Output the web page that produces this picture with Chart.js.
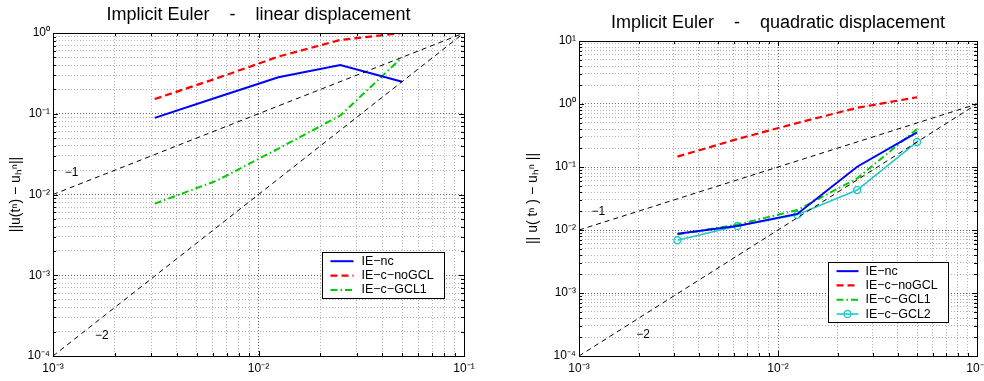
<!DOCTYPE html>
<html><head><meta charset="utf-8">
<script src="https://cdn.jsdelivr.net/npm/chart.js@4/dist/chart.umd.min.js"></script>
<style>
html,body{margin:0;padding:0;background:#fff;width:984px;height:381px;overflow:hidden}
canvas{position:absolute;top:0}
#c1{left:0}
#c2{left:490px}
</style></head><body>
<canvas id="c1" width="490" height="381"></canvas>
<canvas id="c2" width="494" height="381"></canvas>
<script>
// ---------- data ----------
const timeSteps = [0.003125, 0.00625, 0.0125, 0.025, 0.05];

const linearNc      = [0.089, 0.159, 0.283, 0.40, 0.249];
const linearNoGCL   = [0.152, 0.274, 0.51, 0.82, 1.0];
const linearGCL1    = [0.0077, 0.0148, 0.037, 0.095, 0.50];

const quadNc        = [0.0087, 0.0116, 0.018, 0.101, 0.355];
const quadNoGCL     = [0.146, 0.278, 0.50, 0.87, 1.28];
const quadGCL1      = [0.0085, 0.0122, 0.0207, 0.066, 0.40];
const quadGCL2      = [0.00686, 0.0116, 0.0174, 0.043, 0.25];

const refX       = [0.001, 0.1];
const refOrder1  = [0.01, 1];
const refOrder2  = [0.0001, 1];

const xTickExps   = [-3, -2, -1];
const xTickLabels = ['10\u207B\u00B3', '10\u207B\u00B2', '10\u207B\u00B9'];
const yTickExpsLin   = [-4, -3, -2, -1, 0];
const yTickLabelsLin = ['10\u207B\u2074', '10\u207B\u00B3', '10\u207B\u00B2', '10\u207B\u00B9', '10\u2070'];
const yTickExpsQuad   = [-4, -3, -2, -1, 0, 1];
const yTickLabelsQuad = ['10\u207B\u2074', '10\u207B\u00B3', '10\u207B\u00B2', '10\u207B\u00B9', '10\u2070', '10\u00B9'];

const seriesNames = ['IE\u2212nc', 'IE\u2212c\u2212noGCL', 'IE\u2212c\u2212GCL1', 'IE\u2212c\u2212GCL2'];

// ---------- helpers ----------
const FONT = '"Liberation Sans", Arial, Helvetica, sans-serif';
function isMajor(v){ const l = Math.log10(v); return Math.abs(l - Math.round(l)) < 1e-9; }
function logTicks(minE, maxE){
  const out = [];
  for (let e = minE; e < maxE; e++) for (let m = 1; m < 10; m++) out.push({value: m * Math.pow(10, e)});
  out.push({value: Math.pow(10, maxE)});
  return out;
}
function pts(xs, ys){ return xs.map((x, i) => ({x: x, y: ys[i]})); }

function makeAxis(minE, maxE, exps, labels, isX, size){
  return {
    type: 'logarithmic',
    position: isX ? 'bottom' : 'left',
    min: Math.pow(10, minE), max: Math.pow(10, maxE),
    afterBuildTicks(s){ s.ticks = logTicks(minE, maxE); },
    afterFit(s){
      if (isX) s.height = size; else s.width = size;
      s.paddingLeft = 0; s.paddingRight = 0; s.paddingTop = 0; s.paddingBottom = 0;
    },
    ticks: {
      autoSkip: false, maxRotation: 0, minRotation: 0,
      padding: isX ? 5 : 3,
      color: '#000',
      font: {family: FONT, size: 12},
      callback(v){
        if (!isMajor(v)) return '';
        const i = exps.indexOf(Math.round(Math.log10(v)));
        return i >= 0 ? labels[i] : '';
      }
    },
    grid: {
      drawTicks: false,
      lineWidth: 1,
      color(c){ return (c.tick && isMajor(c.tick.value)) ? 'rgba(0,0,0,0.6)' : 'rgba(0,0,0,0.3)'; }
    },
    border: {display: false, dash: [1, 2]}
  };
}

const framePlugin = {
  id: 'matlabFrame',
  afterDatasetsDraw(chart, args, o){
    const ctx = chart.ctx, a = chart.chartArea, xs = chart.scales.x, ys = chart.scales.y;
    ctx.save();
    // slope labels
    ctx.fillStyle = '#000';
    ctx.font = '12px ' + FONT;
    ctx.textAlign = 'center'; ctx.textBaseline = 'middle';
    (o.notes || []).forEach(n => ctx.fillText(n.text, xs.getPixelForValue(n.x), ys.getPixelForValue(n.y)));
    // inner ticks
    ctx.strokeStyle = '#000'; ctx.lineWidth = 1; ctx.setLineDash([]);
    ctx.beginPath();
    xs.ticks.forEach(t => {
      const p = Math.round(xs.getPixelForValue(t.value)) + 0.5, L = isMajor(t.value) ? 5 : 3;
      ctx.moveTo(p, a.bottom); ctx.lineTo(p, a.bottom - L);
      ctx.moveTo(p, a.top); ctx.lineTo(p, a.top + L);
    });
    ys.ticks.forEach(t => {
      const p = Math.round(ys.getPixelForValue(t.value)) + 0.5, L = isMajor(t.value) ? 5 : 3;
      ctx.moveTo(a.left, p); ctx.lineTo(a.left + L, p);
      ctx.moveTo(a.right, p); ctx.lineTo(a.right - L, p);
    });
    ctx.stroke();
    ctx.strokeRect(Math.round(a.left) + 0.5, Math.round(a.top) + 0.5, Math.round(a.right - a.left), Math.round(a.bottom - a.top));
    // legend
    const lg = o.legend;
    const items = chart.data.datasets.filter(d => d.inLegend);
    const h = 2 * lg.pad + items.length * lg.rowH;
    const bx = Math.round(a.right - lg.right - lg.width) + 0.5;
    const by = Math.round(a.bottom - lg.bottom - h) + 0.5;
    ctx.fillStyle = '#fff';
    ctx.fillRect(bx, by, lg.width, h);
    ctx.strokeStyle = '#000'; ctx.lineWidth = 1;
    ctx.strokeRect(bx, by, lg.width, Math.round(h));
    ctx.font = '12.5px ' + FONT;
    ctx.textAlign = 'left'; ctx.textBaseline = 'middle';
    items.forEach((d, i) => {
      const cy = by + lg.pad + lg.rowH * (i + 0.5);
      ctx.save();
      ctx.strokeStyle = d.borderColor; ctx.lineWidth = d.borderWidth;
      ctx.setLineDash(d.borderDash || []);
      ctx.beginPath(); ctx.moveTo(bx + lg.lineStart, cy); ctx.lineTo(bx + lg.lineStart + lg.lineLen, cy); ctx.stroke();
      if (d.pointRadius > 0) {
        ctx.setLineDash([]);
        ctx.lineWidth = d.pointBorderWidth || 1;
        ctx.beginPath(); ctx.arc(bx + lg.lineStart + lg.lineLen / 2, cy, d.pointRadius, 0, Math.PI * 2); ctx.stroke();
      }
      ctx.restore();
      ctx.fillStyle = '#000';
      ctx.fillText(d.label, bx + lg.textX, cy);
    });
    ctx.restore();
  }
};

function refSets(){
  return [
    {label: 'order1', data: pts(refX, refOrder1), borderColor: '#000', borderWidth: 1, borderDash: [5, 4], pointRadius: 0, inLegend: false},
    {label: 'order2', data: pts(refX, refOrder2), borderColor: '#000', borderWidth: 1, borderDash: [5, 4], pointRadius: 0, inLegend: false}
  ];
}
const styleNc    = {borderColor: '#0000ff', borderWidth: 2, pointRadius: 0};
const styleNoGCL = {borderColor: '#ff0000', borderWidth: 2.2, borderDash: [7, 4], pointRadius: 0};
const styleGCL1  = {borderColor: '#00cc00', borderWidth: 2, borderDash: [7, 3, 1.5, 3], pointRadius: 0};
const styleGCL2  = {borderColor: '#22c8c8', borderWidth: 1.6, pointRadius: 3.5, pointBorderWidth: 1.4,
                    pointBackgroundColor: 'rgba(0,0,0,0)', pointBorderColor: '#22c8c8'};

function makeChart(id, cfg){
  return new Chart(document.getElementById(id), {
    type: 'line',
    data: {datasets: cfg.datasets},
    options: {
      responsive: false, animation: false, devicePixelRatio: 1,
      layout: {padding: cfg.padding},
      elements: {line: {tension: 0, fill: false}},
      plugins: {
        legend: {display: false}, tooltip: {enabled: false},
        title: {display: true, fullSize: false, text: cfg.title, color: '#000',
                font: {family: FONT, size: 18, weight: 'normal'}, padding: cfg.titlePad},
        matlabFrame: {notes: cfg.notes, legend: cfg.legend}
      },
      scales: {
        x: makeAxis(-3, -1, xTickExps, xTickLabels, true, 25),
        y: Object.assign(makeAxis(cfg.yMinE, cfg.yMaxE, cfg.yExps, cfg.yLabels, false, cfg.yWidth), {
          title: {display: true, text: cfg.yTitle, color: '#000', font: {family: FONT, size: 14}, padding: {top: cfg.yTitleTop, bottom: 0}}
        })
      }
    },
    plugins: [framePlugin]
  });
}

makeChart('c1', {
  title: 'Implicit Euler    -    linear displacement',
  titlePad: {top: 4, bottom: 7.4},
  padding: {left: 0, right: 26, top: 0, bottom: 0},
  yMinE: -4, yMaxE: 0, yExps: yTickExpsLin, yLabels: yTickLabelsLin, yWidth: 53,
  yTitle: '||u(t\u207F) \u2212 u\u2095\u207F||', yTitleTop: 8,
  notes: [{text: '\u22121', x: 0.00123, y: 0.0184}, {text: '\u22122', x: 0.00173, y: 0.000176}],
  legend: {right: 20, bottom: 58, width: 122, pad: 1.5, rowH: 14.4, lineStart: 8, lineLen: 23, textX: 39},
  datasets: refSets().concat([
    Object.assign({label: seriesNames[0], data: pts(timeSteps, linearNc), inLegend: true}, styleNc),
    Object.assign({label: seriesNames[1], data: pts(timeSteps, linearNoGCL), inLegend: true}, styleNoGCL),
    Object.assign({label: seriesNames[2], data: pts(timeSteps, linearGCL1), inLegend: true}, styleGCL1)
  ])
});

makeChart('c2', {
  title: 'Implicit Euler    -    quadratic displacement',
  titlePad: {top: 12.5, bottom: 6.9},
  padding: {left: 0, right: 7, top: 0, bottom: 0},
  yMinE: -4, yMaxE: 1, yExps: yTickExpsQuad, yLabels: yTickLabelsQuad, yWidth: 89,
  yTitle: '|| u( t\u207F ) \u2212 u\u2095\u207F ||', yTitleTop: 35,
  notes: [{text: '\u22121', x: 0.00125, y: 0.0195}, {text: '\u22122', x: 0.0021, y: 0.000215}],
  legend: {right: 29, bottom: 34, width: 120, pad: 1.5, rowH: 14.3, lineStart: 8, lineLen: 22, textX: 37},
  datasets: refSets().concat([
    Object.assign({label: seriesNames[0], data: pts(timeSteps, quadNc), inLegend: true}, styleNc),
    Object.assign({label: seriesNames[1], data: pts(timeSteps, quadNoGCL), inLegend: true}, styleNoGCL),
    Object.assign({label: seriesNames[2], data: pts(timeSteps, quadGCL1), inLegend: true}, styleGCL1),
    Object.assign({label: seriesNames[3], data: pts(timeSteps, quadGCL2), inLegend: true}, styleGCL2)
  ])
});
</script>
</body></html>
